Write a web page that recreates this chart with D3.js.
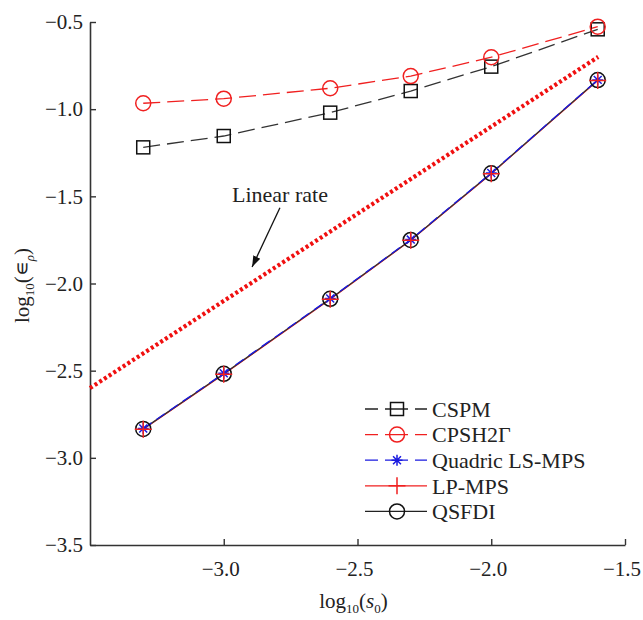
<!DOCTYPE html>
<html>
<head>
<meta charset="utf-8">
<script src="https://cdn.jsdelivr.net/npm/d3@7"></script>
<style>
  html, body { margin: 0; padding: 0; background: #fff; }
  svg text { font-family: "Liberation Serif", "Times New Roman", serif; fill: #222; }
</style>
</head>
<body>
<svg id="chart" width="643" height="620"></svg>
<script>
// log10 of the initial particle spacing s0
const logS0 = [-3.301, -3.0, -2.602, -2.301, -2.0, -1.602];

// log10 of the relative error for each scheme
const cspm    = [-1.219, -1.154, -1.020, -0.896, -0.756, -0.542];
const cpsh2g  = [-0.966, -0.940, -0.880, -0.810, -0.702, -0.527];
const quadric = [-2.832, -2.515, -2.086, -1.748, -1.366, -0.832];
const lpMps   = [-2.836, -2.520, -2.090, -1.752, -1.370, -0.835];
const qsfdi   = [-2.834, -2.518, -2.088, -1.750, -1.368, -0.833];

// reference slope-1 line
const rateX = [-3.5, -1.6];
const rateY = [-2.6, -0.7];

const xTicks = [-3.0, -2.5, -2.0, -1.5];
const yTicks = [-3.5, -3.0, -2.5, -2.0, -1.5, -1.0, -0.5];

const seriesNames = ["CSPM", "CPSH2\u0393", "Quadric LS-MPS", "LP-MPS", "QSFDI"];

const svg = d3.select("#chart");
const plotLeft = 90, plotRight = 625, plotTop = 22, plotBottom = 545;

const x = d3.scaleLinear().domain([-3.5, -1.5]).range([plotLeft, plotRight]);
const y = d3.scaleLinear().domain([-3.5, -0.5]).range([plotBottom, plotTop]);

const fmt = v => d3.format(".1f")(v).replace("-", "\u2212");
const axisColor = "#333";

// x axis, ticks pointing inward
const gx = svg.append("g").attr("transform", `translate(0,${plotBottom})`)
  .call(d3.axisBottom(x).tickValues(xTicks).tickFormat(fmt).tickSize(-6).tickPadding(16).tickSizeOuter(0));
gx.select(".domain").attr("stroke", axisColor).attr("stroke-width", 1.6);
gx.selectAll(".tick line").attr("stroke", axisColor).attr("stroke-width", 1.4);
gx.selectAll(".tick text").attr("font-size", 21).attr("font-family", "Liberation Serif")
  .attr("fill", "#222").attr("dx", -3.5);

// y axis
const gy = svg.append("g").attr("transform", `translate(${plotLeft},0)`)
  .call(d3.axisLeft(y).tickValues(yTicks).tickFormat(fmt).tickSize(-6).tickPadding(7).tickSizeOuter(0));
gy.select(".domain").attr("stroke", axisColor).attr("stroke-width", 1.6);
gy.selectAll(".tick line").attr("stroke", axisColor).attr("stroke-width", 1.4);
gy.selectAll(".tick text").attr("font-size", 21).attr("font-family", "Liberation Serif").attr("fill", "#222");

// axis titles
const xl = svg.append("text").attr("x", (plotLeft + plotRight) / 2 - 4).attr("y", 608)
  .attr("text-anchor", "middle").attr("font-size", 21);
xl.append("tspan").text("log");
xl.append("tspan").attr("font-size", 13).attr("dy", 5).text("10");
xl.append("tspan").attr("dy", -5).text("(");
xl.append("tspan").attr("font-style", "italic").text("s");
xl.append("tspan").attr("font-size", 13).attr("dy", 5).text("0");
xl.append("tspan").attr("dy", -5).text(")");

const yl = svg.append("text")
  .attr("transform", `translate(29,${(plotTop + plotBottom) / 2 + 2}) rotate(-90)`)
  .attr("text-anchor", "middle").attr("font-size", 21);
yl.append("tspan").text("log");
yl.append("tspan").attr("font-size", 13).attr("dy", 5).text("10");
yl.append("tspan").attr("dy", -5).text("(\u220A");
yl.append("tspan").attr("font-size", 13).attr("font-style", "italic").attr("dy", 5).text("\u03C1");
yl.append("tspan").attr("dy", -5).text(")");

// linear-rate guide line
const rateData = rateX.map((v, i) => [v, rateY[i]]);
svg.append("path")
  .attr("d", d3.line().x(d => x(d[0])).y(d => y(d[1]))(rateData))
  .attr("fill", "none").attr("stroke", "#f01010").attr("stroke-width", 4.2)
  .attr("stroke-dasharray", "3,2.6");

// annotation arrow and label
const defs = svg.append("defs");
defs.append("marker").attr("id", "arrowHead")
  .attr("viewBox", "0 0 10 10").attr("refX", 10).attr("refY", 5)
  .attr("markerWidth", 11).attr("markerHeight", 11).attr("markerUnits", "userSpaceOnUse")
  .attr("orient", "auto")
  .append("path").attr("d", "M0,1.5 L10,5 L0,8.5 Z").attr("fill", "#111");

const arrowFrom = [-2.79, -1.566];
const arrowTo = [-2.894, -1.905];
svg.append("line")
  .attr("x1", x(arrowFrom[0])).attr("y1", y(arrowFrom[1]))
  .attr("x2", x(arrowTo[0])).attr("y2", y(arrowTo[1]))
  .attr("stroke", "#111").attr("stroke-width", 1.3)
  .attr("marker-end", "url(#arrowHead)");

svg.append("text").attr("x", x(-2.969)).attr("y", y(-1.530))
  .attr("font-size", 22).text("Linear rate");

// marker painters, centred at (0,0)
function drawSquare(g, color) {
  g.append("rect").attr("x", -6.5).attr("y", -6.5).attr("width", 13).attr("height", 13)
    .attr("fill", "none").attr("stroke", color).attr("stroke-width", 1.5);
}
function drawCircle(g, color) {
  g.append("circle").attr("r", 7.5).attr("fill", "none").attr("stroke", color).attr("stroke-width", 1.5);
}
function drawAsterisk(g, color) {
  const p = d3.path(), a = 5.5, b = a * 0.72;
  p.moveTo(-a, 0); p.lineTo(a, 0);
  p.moveTo(0, -a); p.lineTo(0, a);
  p.moveTo(-b, -b); p.lineTo(b, b);
  p.moveTo(-b, b); p.lineTo(b, -b);
  g.append("path").attr("d", p.toString()).attr("stroke", color).attr("stroke-width", 1.5).attr("fill", "none");
}
function drawPlus(g, color) {
  const p = d3.path(), a = 8.5;
  p.moveTo(-a, 0); p.lineTo(a, 0);
  p.moveTo(0, -a); p.lineTo(0, a);
  g.append("path").attr("d", p.toString()).attr("stroke", color).attr("stroke-width", 1.5).attr("fill", "none");
}

const series = [
  { name: seriesNames[0], values: cspm,    color: "#333",    dash: "17,7", width: 1.3, marker: drawSquare },
  { name: seriesNames[1], values: cpsh2g,  color: "#f02020", dash: "17,7", width: 1.3, marker: drawCircle },
  { name: seriesNames[3], values: lpMps,   color: "#f02020", dash: null,   width: 1.3, marker: drawPlus },
  { name: seriesNames[4], values: qsfdi,   color: "#333",    dash: null,   width: 1.3, marker: drawCircle },
  { name: seriesNames[2], values: quadric, color: "#1a1ae0", dash: "10,6", width: 1.3, marker: drawAsterisk }
];

const line = d3.line().x(d => x(d[0])).y(d => y(d[1]));

// lines first, then markers so every symbol stays visible
series.forEach(s => {
  const pts = logS0.map((v, i) => [v, s.values[i]]);
  svg.append("path").attr("d", line(pts)).attr("fill", "none")
    .attr("stroke", s.color).attr("stroke-width", s.width)
    .attr("stroke-dasharray", s.dash);
});
const markerOrder = [series[0], series[1], series[3], series[4], series[2]];
markerOrder.forEach(s => {
  logS0.forEach((v, i) => {
    const g = svg.append("g").attr("transform", `translate(${x(v)},${y(s.values[i])})`);
    s.marker(g, s.color === "#333" ? "#111" : s.color);
  });
});

// legend
const legendItems = [
  { name: seriesNames[0], color: "#222",    dash: "13,7,23,7,12", marker: drawSquare },
  { name: seriesNames[1], color: "#f02020", dash: "13,7,23,7,12", marker: drawCircle },
  { name: seriesNames[2], color: "#1a1ae0", dash: "13,7,23,7,12", marker: drawAsterisk },
  { name: seriesNames[3], color: "#f02020", dash: null,           marker: drawPlus },
  { name: seriesNames[4], color: "#222",    dash: null,           marker: drawCircle }
];
const legend = svg.append("g").attr("transform", "translate(365,409)");
legendItems.forEach((it, i) => {
  const row = legend.append("g").attr("transform", `translate(0,${i * 25.6})`);
  row.append("line").attr("x1", 0).attr("x2", 62).attr("y1", 0).attr("y2", 0)
    .attr("stroke", it.color).attr("stroke-width", 1.3).attr("stroke-dasharray", it.dash);
  it.marker(row.append("g").attr("transform", "translate(32,0)"), it.color === "#222" ? "#111" : it.color);
  row.append("text").attr("x", 67).attr("y", 0).attr("dy", "0.35em")
    .attr("font-size", 22).text(it.name);
});
</script>
</body>
</html>
